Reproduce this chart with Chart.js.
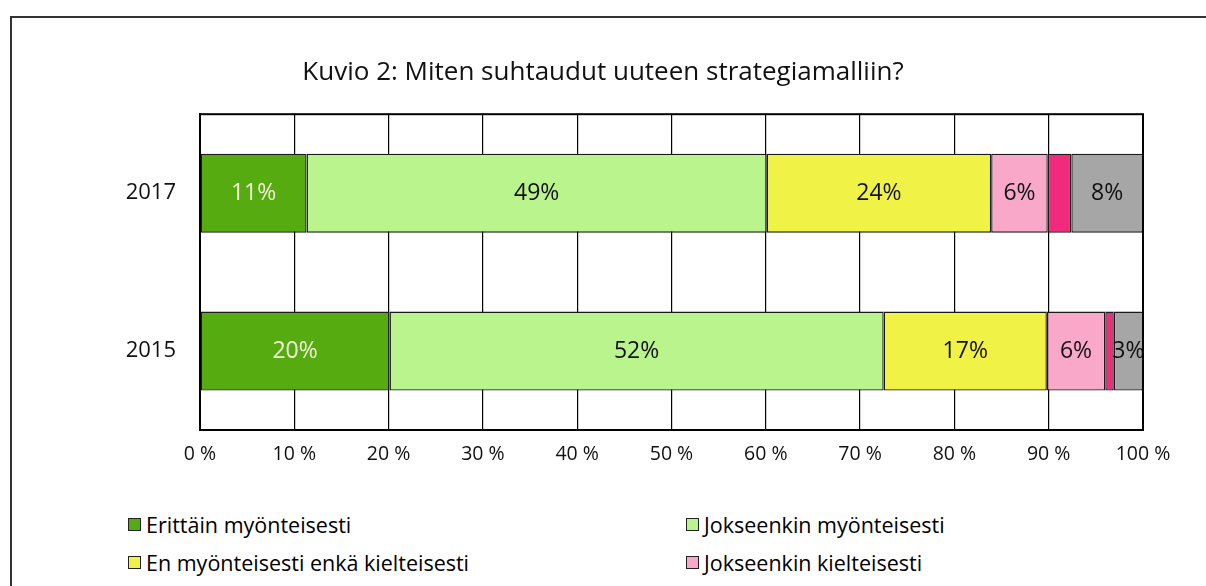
<!DOCTYPE html>
<html>
<head>
<meta charset="utf-8">
<script src="https://cdn.jsdelivr.net/npm/chart.js@4/dist/chart.umd.min.js"></script>
<style>
  html, body { margin: 0; padding: 0; background: #fff; overflow: hidden; }
  body { width: 1206px; height: 586px; position: relative; font-family: 'Open Sans', sans-serif; }
  #frame { position: absolute; left: 10px; top: 16px; width: 1196px; height: 570px; border-left: 2px solid #333; border-top: 2px solid #333; box-sizing: border-box; }
  #wrap { position: absolute; left: 0; top: 0; width: 1206px; height: 480px; }
  #legend { position: absolute; left: 128px; top: 510px; display: grid; grid-template-columns: 558px 500px; row-gap: 10px; }
  .item { display: flex; align-items: center; font-size: 21.5px; color: #000; height: 28px; white-space: nowrap; }
  .box { width: 11px; height: 11px; border: 1.5px solid #222; margin-right: 5px; }
</style>
</head>
<body>
<div id="frame"></div>
<div id="wrap"><canvas id="c"></canvas></div>
<div id="legend"></div>
<script>
// data
const years = ['2017', '2015'];
const seriesNames = ['Erittäin myönteisesti', 'Jokseenkin myönteisesti', 'En myönteisesti enkä kielteisesti',
                     'Jokseenkin kielteisesti', 'Erittäin kielteisesti', 'En osaa sanoa'];
const erittainMyont   = [11.3, 20.1];
const jokseenkinMyont = [48.8, 52.4];
const neutraali       = [23.8, 17.3];
const jokseenkinKielt = [6.0, 6.2];
const erittainKielt   = [2.5, 0.9];
const eos             = [7.6, 3.1];
const xTicks = [0, 10, 20, 30, 40, 50, 60, 70, 80, 90, 100];

const colors = ['#56ab10', '#b9f48c', '#f0f245', '#f9a8c9', '#f22a7c', '#a6a6a6'];
const labelColors = ['#f4f4dc', '#111', '#111', '#111', '#111', '#111'];
const values = [erittainMyont, jokseenkinMyont, neutraali, jokseenkinKielt, erittainKielt, eos];

const FONT = '"Open Sans", sans-serif';

// data labels in bar centres
const barLabels = {
  id: 'barLabels',
  afterDatasetsDraw(chart) {
    const ctx = chart.ctx;
    ctx.save();
    ctx.font = '23px ' + FONT;
    ctx.textAlign = 'center';
    ctx.textBaseline = 'middle';
    chart.data.datasets.forEach((ds, i) => {
      chart.getDatasetMeta(i).data.forEach((bar, j) => {
        const v = ds.data[j];
        if (v < 3) return;
        ctx.fillStyle = labelColors[i];
        ctx.fillText(Math.round(v) + '%', (bar.x + bar.base) / 2, bar.y);
      });
    });
    ctx.restore();
  }
};

// plot frame
const plotFrame = {
  id: 'plotFrame',
  afterDraw(chart) {
    const a = chart.chartArea, ctx = chart.ctx;
    ctx.save();
    ctx.strokeStyle = '#000';
    ctx.lineWidth = 2;
    ctx.strokeRect(a.left, a.top, a.right - a.left, a.bottom - a.top);
    ctx.restore();
  }
};

const chart = new Chart(document.getElementById('c'), {
  type: 'bar',
  data: {
    labels: years,
    datasets: seriesNames.map((name, i) => ({
      label: name,
      data: values[i],
      backgroundColor: colors[i],
      borderColor: '#1a1a1a',
      borderWidth: 1.4,
      borderSkipped: false,
      categoryPercentage: 1,
      barPercentage: 0.5
    }))
  },
  options: {
    indexAxis: 'y',
    responsive: true, maintainAspectRatio: false,
    animation: false,
    layout: { padding: { left: 63, right: 63, top: 0, bottom: 0 } },
    plugins: {
      legend: { display: false },
      tooltip: { enabled: false },
      title: {
        display: true,
        text: 'Kuvio 2: Miten suhtaudut uuteen strategiamalliin?',
        color: '#111',
        font: { family: FONT, size: 26, weight: 'normal' },
        padding: { top: 57, bottom: 26 }
      }
    },
    scales: {
      x: {
        stacked: true, min: 0, max: 100,
        afterBuildTicks: s => { s.ticks = xTicks.map(v => ({ value: v })); },
        afterFit: s => { s.height = 50; },
        grid: { color: '#000', lineWidth: 1.2, drawTicks: false },
        border: { color: '#000', width: 2 },
        ticks: { color: '#111', padding: 13, font: { family: FONT, size: 19.5 }, callback: v => v + ' %' }
      },
      y: {
        stacked: true,
        afterFit: s => { s.width = 137; },
        grid: { display: false, drawTicks: false },
        border: { color: '#000', width: 2 },
        ticks: { color: '#111', padding: 24, font: { family: FONT, size: 22 } }
      }
    }
  },
  plugins: [barLabels, plotFrame]
});

// legend in two columns, built from the datasets
const legendEl = document.getElementById('legend');
chart.data.datasets.forEach(ds => {
  const item = document.createElement('div');
  item.className = 'item';
  item.innerHTML = `<span class="box" style="background:${ds.backgroundColor}"></span>${ds.label}`;
  legendEl.appendChild(item);
});
</script>
</body>
</html>
